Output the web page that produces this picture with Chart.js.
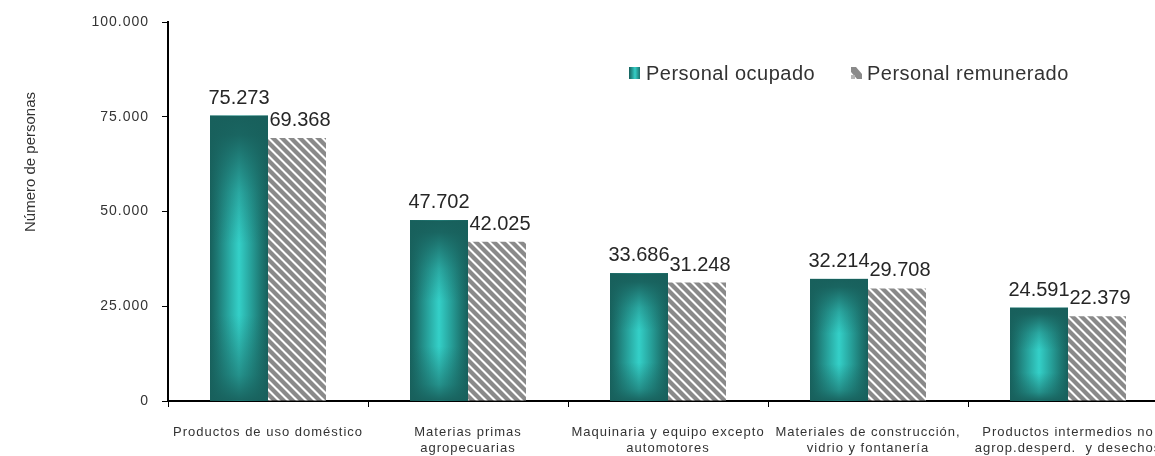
<!DOCTYPE html>
<html>
<head>
<meta charset="utf-8">
<script src="https://cdn.jsdelivr.net/npm/chart.js@4/dist/chart.umd.min.js"></script>
<style>
  html, body { margin: 0; padding: 0; background: #fff; overflow: hidden; }
  #wrap { width: 1168px; height: 456px; }
</style>
</head>
<body>
<div id="wrap"><canvas id="chart"></canvas></div>
<script>
// Datos
var categorias = [
	['Productos de uso doméstico'],
	['Materias primas', 'agropecuarias'],
	['Maquinaria y equipo excepto', 'automotores'],
	['Materiales de construcción,', 'vidrio y fontanería'],
	['Productos intermedios no', 'agrop.desperd.  y desechos']
];
var personalOcupado = [75273, 47702, 33686, 32214, 24591];
var personalRemunerado = [69368, 42025, 31248, 29708, 22379];
var nombresSeries = ['Personal ocupado', 'Personal remunerado'];
var tituloEjeY = 'Número de personas';

var FONT = "'Liberation Sans', Arial, sans-serif";
var TEXT = '#333333';

function fmt(n) {
	return String(n).replace(/\B(?=(\d{3})+(?!\d))/g, '.');
}

// Trama rayada gris / blanco
function makeHatch() {
	var c = document.createElement('canvas');
	c.width = 9; c.height = 9;
	var g = c.getContext('2d');
	g.fillStyle = '#ffffff';
	g.fillRect(0, 0, 9, 9);
	g.strokeStyle = '#8a8a8a';
	g.lineWidth = 4.3;
	[-9, 0, 9].forEach(function (k) {
		g.beginPath();
		g.moveTo(-2, k - 2);
		g.lineTo(11, k + 11);
		g.stroke();
	});
	return c;
}
var ctx0 = document.getElementById('chart').getContext('2d');
var hatch = ctx0.createPattern(makeHatch(), 'repeat');

// Efecto de relieve sobre las barras turquesa
function shadeBar(ctx, x0, x1, y0, y1) {
	var w = x1 - x0, h = y1 - y0;
	// degradado horizontal: bordes oscuros, centro claro
	var gh = ctx.createLinearGradient(x0, 0, x1, 0);
	gh.addColorStop(0, '#17605c');
	gh.addColorStop(0.12, '#1d7873');
	gh.addColorStop(0.35, '#2aaea7');
	gh.addColorStop(0.5, '#34d0c8');
	gh.addColorStop(0.65, '#2aaea7');
	gh.addColorStop(0.88, '#1d7873');
	gh.addColorStop(1, '#17605c');
	ctx.fillStyle = gh;
	ctx.fillRect(x0, y0, w, h);
	// oscurecer arriba
	var topH = h * 0.45;
	var gt = ctx.createLinearGradient(0, y0, 0, y0 + topH);
	gt.addColorStop(0, 'rgba(24,96,92,1)');
	gt.addColorStop(0.15, 'rgba(24,96,92,0.95)');
	gt.addColorStop(0.6, 'rgba(24,96,92,0.35)');
	gt.addColorStop(1, 'rgba(24,96,92,0)');
	ctx.fillStyle = gt;
	ctx.fillRect(x0, y0, w, topH);
	// oscurecer abajo
	var botH = h * 0.3;
	var gb = ctx.createLinearGradient(0, y1, 0, y1 - botH);
	gb.addColorStop(0, 'rgba(24,96,92,0.95)');
	gb.addColorStop(0.3, 'rgba(24,96,92,0.55)');
	gb.addColorStop(1, 'rgba(24,96,92,0)');
	ctx.fillStyle = gb;
	ctx.fillRect(x0, y1 - botH, w, botH);
}

var decorPlugin = {
	id: 'decor',
	beforeDraw: function (chart) {
		// espaciado de letras para los ejes
		chart.ctx.letterSpacing = '1px';
	},
	afterDatasetsDraw: function (chart) {
		var ctx = chart.ctx;
		ctx.save();
		var meta0 = chart.getDatasetMeta(0);
		meta0.data.forEach(function (bar) {
			var p = bar.getProps(['x', 'y', 'base', 'width'], true);
			shadeBar(ctx, p.x - p.width / 2, p.x + p.width / 2, p.y, p.base);
		});
		// etiquetas de valor
		ctx.letterSpacing = '0px';
		ctx.font = '20px ' + FONT;
		ctx.fillStyle = '#262626';
		ctx.textAlign = 'center';
		ctx.textBaseline = 'alphabetic';
		chart.data.datasets.forEach(function (ds, di) {
			chart.getDatasetMeta(di).data.forEach(function (bar, i) {
				var p = bar.getProps(['x', 'y'], true);
				ctx.fillText(fmt(ds.data[i]), p.x + (di === 1 ? 3 : 0), p.y - 12);
			});
		});
		ctx.restore();
	},
	afterDraw: function (chart) {
		var ctx = chart.ctx;
		ctx.save();
		// titulo eje Y
		ctx.letterSpacing = '0px';
		ctx.font = '15px ' + FONT;
		ctx.fillStyle = TEXT;
		ctx.textAlign = 'center';
		ctx.textBaseline = 'middle';
		ctx.translate(31, 162);
		ctx.rotate(-Math.PI / 2);
		ctx.fillText(tituloEjeY, 0, 0);
		ctx.restore();

		// leyenda
		ctx.save();
		ctx.letterSpacing = '0.5px';
		ctx.font = '20px ' + FONT;
		ctx.textBaseline = 'middle';
		ctx.textAlign = 'left';
		var ly = 73;
		var gr = ctx.createLinearGradient(629, 0, 641, 0);
		gr.addColorStop(0, '#155f5b');
		gr.addColorStop(0.5, '#35cfc7');
		gr.addColorStop(1, '#155f5b');
		ctx.fillStyle = gr;
		ctx.fillRect(629, ly - 6, 11, 12);
		ctx.fillStyle = TEXT;
		ctx.fillText(nombresSeries[0], 646, ly + 1);
		ctx.fillStyle = '#8a8a8a';
		ctx.beginPath();
		ctx.moveTo(851, ly - 6);
		ctx.lineTo(856, ly - 6);
		ctx.lineTo(862, ly + 1);
		ctx.lineTo(862, ly + 6);
		ctx.lineTo(857, ly + 6);
		ctx.lineTo(851, ly - 1);
		ctx.closePath();
		ctx.fill();
		ctx.fillStyle = '#b5b5b5';
		ctx.fillRect(851, ly + 2, 4, 4);
		ctx.fillStyle = TEXT;
		ctx.fillText(nombresSeries[1], 867, ly + 1);
		ctx.restore();
		ctx.letterSpacing = '0px';
	}
};

new Chart(ctx0, {
	type: 'bar',
	data: {
		labels: categorias,
		datasets: [
			{
				label: nombresSeries[0],
				data: personalOcupado,
				backgroundColor: '#1f8e88',
				borderWidth: 0,
				categoryPercentage: 0.58,
				barPercentage: 1.0
			},
			{
				label: nombresSeries[1],
				data: personalRemunerado,
				backgroundColor: hatch,
				borderWidth: 0,
				categoryPercentage: 0.58,
				barPercentage: 1.0
			}
		]
	},
	options: {
		responsive: true,
		maintainAspectRatio: false,
		animation: false,
		devicePixelRatio: 1,
		layout: { padding: { top: 22, left: 0, right: 0, bottom: 0 } },
		plugins: {
			legend: { display: false },
			tooltip: { enabled: false }
		},
		scales: {
			x: {
				offset: true,
				border: { display: true, color: '#000000', width: 2 },
				grid: { display: true, drawOnChartArea: false, drawTicks: true, tickLength: 6, color: '#000000', offset: true },
				ticks: {
					autoSkip: false,
					maxRotation: 0,
					minRotation: 0,
					padding: 18,
					color: TEXT,
					font: { family: FONT, size: 13, lineHeight: 1.2 }
				},
				afterFit: function (scale) { scale.height = 55; }
			},
			y: {
				min: 0,
				max: 100000,
				border: { display: true, color: '#000000', width: 2 },
				grid: { display: true, drawOnChartArea: false, drawTicks: true, tickLength: 6, color: '#000000' },
				ticks: {
					stepSize: 25000,
					padding: 13,
					color: TEXT,
					font: { family: FONT, size: 14 },
					callback: function (v) { return fmt(v); }
				},
				afterFit: function (scale) { scale.width = 168; }
			}
		}
	},
	plugins: [decorPlugin]
});
</script>
</body>
</html>
